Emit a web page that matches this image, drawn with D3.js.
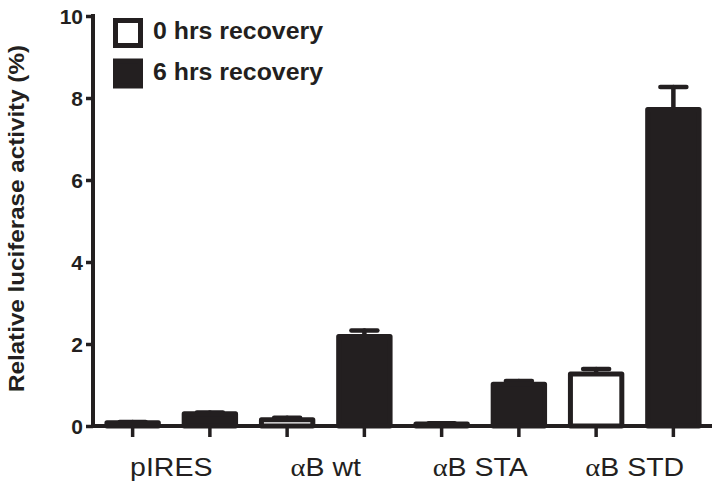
<!DOCTYPE html>
<html>
<head>
<meta charset="utf-8">
<script src="https://cdn.jsdelivr.net/npm/d3@7"></script>
<style>
  html, body { margin: 0; padding: 0; background: #fff; }
  svg { display: block; }
</style>
</head>
<body>
<svg id="chart" width="720" height="489"></svg>
<script>
// ---- data ----
const categories = ["pIRES", "αB wt", "αB STA", "αB STD"];
const seriesNames = ["0 hrs recovery", "6 hrs recovery"];
const values0 = [0.08, 0.15, 0.05, 1.27];
const values6 = [0.30, 2.18, 1.02, 7.72];
const errors0 = [0.02, 0.05, 0.02, 0.12];
const errors6 = [0.03, 0.15, 0.08, 0.55];
const yTicks = [0, 2, 4, 6, 8, 10];
const yTitle = "Relative luciferase activity (%)";

const ink = "#231f20";
const fills = ["#ffffff", ink];

const svg = d3.select("#chart");
const x0 = d3.scaleBand().domain(categories).range([94, 712]).padding(0);
const x1 = d3.scaleBand().domain([0, 1]).range([0, x0.bandwidth()])
  .paddingInner(0.27).paddingOuter(0.135);
const y = d3.scaleLinear().domain([0, 10]).range([426, 16]);

const rows = [];
categories.forEach((c, i) => {
  rows.push({cat: c, s: 0, v: values0[i], e: errors0[i]});
  rows.push({cat: c, s: 1, v: values6[i], e: errors6[i]});
});
const cx = d => x0(d.cat) + x1(d.s) + x1.bandwidth() / 2;

const sw = 5;
// error bars (drawn under bars)
const eb = svg.append("g").attr("stroke", ink).attr("stroke-width", 4.5).attr("stroke-linecap", "round");
eb.selectAll("line.v").data(rows).join("line").attr("class", "v")
  .attr("x1", cx).attr("x2", cx)
  .attr("y1", d => y(d.v)).attr("y2", d => y(d.v + d.e));
eb.selectAll("line.c").data(rows).join("line").attr("class", "c")
  .attr("x1", d => cx(d) - 13).attr("x2", d => cx(d) + 13)
  .attr("y1", d => y(d.v + d.e)).attr("y2", d => y(d.v + d.e));

// bars
svg.append("g").selectAll("rect").data(rows).join("rect")
  .attr("x", d => x0(d.cat) + x1(d.s) + sw / 2)
  .attr("width", x1.bandwidth() - sw)
  .attr("y", d => y(d.v))
  .attr("height", d => Math.max(0, y(0) - y(d.v)))
  .attr("fill", d => fills[d.s])
  .attr("stroke", ink).attr("stroke-width", sw)
  .attr("stroke-linejoin", "round");

// y axis
const yAxis = d3.axisLeft(y).tickValues(yTicks).tickSize(7).tickSizeOuter(0).tickFormat(d3.format("d"));
const ya = svg.append("g").attr("transform", "translate(93,0)").call(yAxis);
ya.select(".domain").attr("stroke", ink).attr("stroke-width", 4).attr("d", `M0,${y(10) - 2}V${y(0) + 2}`);
ya.selectAll(".tick line").attr("stroke", ink).attr("stroke-width", 3.5);
ya.selectAll(".tick text")
  .attr("x", -10).attr("dy", "0.35em")
  .attr("font-family", "'Liberation Sans', Arial, sans-serif")
  .attr("font-weight", "bold").attr("font-size", 21).attr("fill", ink);

// x axis: one tick per bar
const xa = svg.append("g");
xa.append("line").attr("x1", 91).attr("x2", 712).attr("y1", y(0)).attr("y2", y(0))
  .attr("stroke", ink).attr("stroke-width", 4);
xa.selectAll("line.t").data(rows).join("line").attr("class", "t")
  .attr("x1", cx).attr("x2", cx).attr("y1", y(0)).attr("y2", y(0) + 11)
  .attr("stroke", ink).attr("stroke-width", 3.5);

// x category labels
const xl = svg.append("g")
  .attr("font-family", "'Liberation Sans', Arial, sans-serif")
  .attr("font-size", 25).attr("fill", ink);
categories.forEach((c, i) => {
  const t = xl.append("g")
    .attr("transform", `translate(${x0(c) + x0.bandwidth() / 2},476) scale(1.14,1)`)
    .append("text")
    .attr("text-anchor", "middle");
  if (c.startsWith("α")) {
    t.append("tspan").attr("font-family", "'Liberation Serif', 'DejaVu Serif', serif").text("α");
    t.append("tspan").text(c.slice(1));
  } else {
    t.text(c);
  }
});

// y title
svg.append("text")
  .attr("transform", `translate(24,${(45 + 392) / 2}) rotate(-90)`)
  .attr("text-anchor", "middle")
  .attr("font-family", "'Liberation Sans', Arial, sans-serif")
  .attr("font-weight", "bold").attr("font-size", 22).attr("fill", ink)
  .attr("textLength", 347).attr("lengthAdjust", "spacingAndGlyphs")
  .text(yTitle);

// legend
const lg = svg.append("g").selectAll("g").data(seriesNames).join("g")
  .attr("transform", (d, i) => `translate(113,${18 + i * 40.5})`);
lg.append("rect")
  .attr("x", sw / 2).attr("y", sw / 2)
  .attr("width", 30 - sw).attr("height", 30 - sw)
  .attr("fill", (d, i) => fills[i])
  .attr("stroke", ink).attr("stroke-width", sw);
lg.append("text")
  .attr("x", 40).attr("y", 21)
  .attr("font-family", "'Liberation Sans', Arial, sans-serif")
  .attr("font-weight", "bold").attr("font-size", 23).attr("fill", ink)
  .attr("textLength", 170).attr("lengthAdjust", "spacingAndGlyphs")
  .text(d => d);
</script>
</body>
</html>
